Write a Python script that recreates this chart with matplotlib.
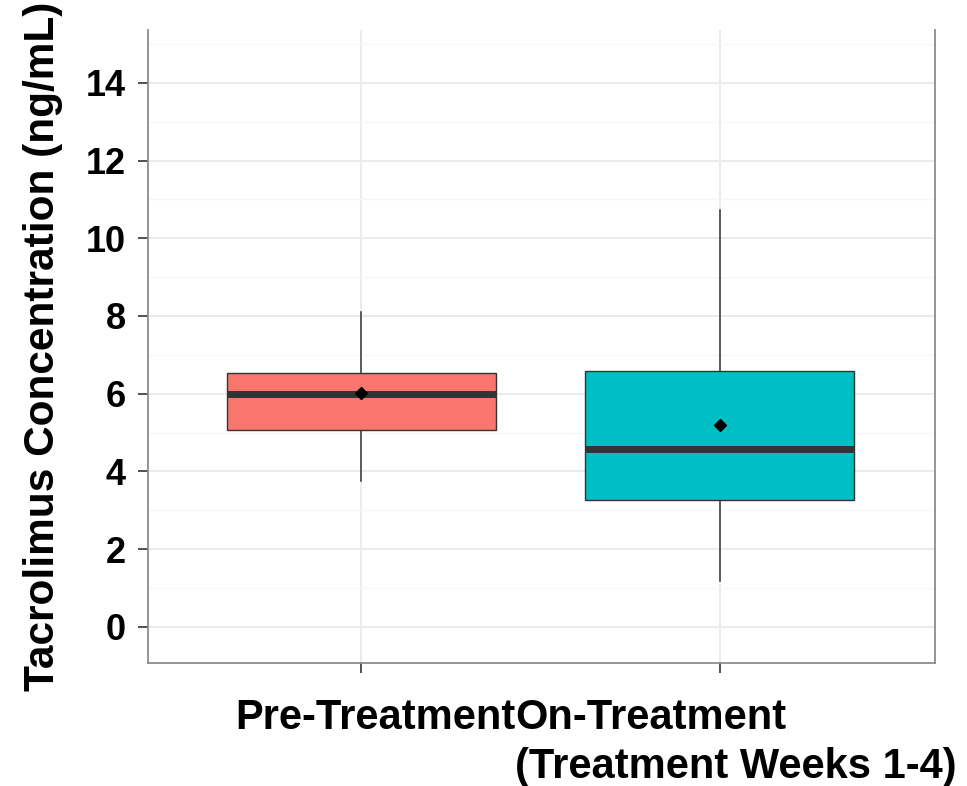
import numpy as np
import matplotlib.pyplot as plt
from matplotlib.ticker import MultipleLocator

plt.rcParams['font.family'] = ['Liberation Sans', 'DejaVu Sans']

# summary statistics per group (ng/mL)
groups = ['Pre-Treatment', 'On-Treatment\n(Treatment Weeks 1-4)']
whisker_low = [3.76, 1.18]
q1 = [5.07, 3.27]
median = [6.0, 4.58]
q3 = [6.54, 6.59]
whisker_high = [8.11, 10.73]
means = [6.02, 5.2]
fill_colors = ['#F8766D', '#00BFC4']

stats = []
for i, name in enumerate(groups):
    stats.append({'label': name, 'whislo': whisker_low[i], 'q1': q1[i], 'med': median[i],
                  'q3': q3[i], 'whishi': whisker_high[i], 'mean': means[i], 'fliers': []})

fig = plt.figure(figsize=(9.67, 7.86), dpi=100)
ax = fig.add_axes([148 / 967, 1 - 663 / 786, (935 - 148) / 967, (663 - 30) / 786])

pos = np.arange(1, len(groups) + 1)
bp = ax.bxp(stats, positions=pos, widths=0.75, patch_artist=True, showcaps=False,
            showmeans=True, meanline=False,
            boxprops=dict(edgecolor='#333333', linewidth=1.0),
            whiskerprops=dict(color='#333333', linewidth=1.1),
            medianprops=dict(color='#333333', linewidth=5),
            meanprops=dict(marker='D', markerfacecolor='black', markeredgecolor='black',
                           markersize=6.5))
for patch, c in zip(bp['boxes'], fill_colors):
    patch.set_facecolor(c)
    patch.set_zorder(3)
for line in bp['whiskers']:
    line.set_zorder(2)
for line in bp['medians']:
    line.set_zorder(4)
for m in bp['means']:
    m.set_zorder(5)

ax.set_xlim(0.405, 2.6)
ax.set_ylim(-0.93, 15.36)
ax.yaxis.set_major_locator(MultipleLocator(2))
ax.yaxis.set_minor_locator(MultipleLocator(1))
ax.set_yticks(np.arange(0, 15, 2))
ax.grid(which='major', color='#EBEBEB', linewidth=1.4, zorder=0)
ax.grid(which='minor', axis='y', color='#F6F6F6', linewidth=1.0, zorder=0)
ax.set_axisbelow(True)

for side in ['left', 'right', 'bottom']:
    ax.spines[side].set_color('#8C8C8C')
    ax.spines[side].set_linewidth(1.3)
ax.spines['top'].set_visible(False)

ax.tick_params(axis='y', which='major', length=7, width=1.2, color='#333333',
               labelsize=26, pad=9)
ax.tick_params(axis='y', which='minor', length=0)
ax.tick_params(axis='x', length=7, width=1.2, color='#333333', labelbottom=False)
for t in ax.get_yticklabels():
    t.set_fontweight('bold')

ax.set_xticks(pos)

# category labels under the panel
ax.text((375 - 148) / (935 - 148), -0.055, groups[0], transform=ax.transAxes,
        ha='center', va='top', fontsize=30, fontweight='bold')
ax.text((515 - 148) / (935 - 148), -0.055, groups[1], transform=ax.transAxes,
        ha='left', va='top', fontsize=30, fontweight='bold', multialignment='left',
        linespacing=1.3)

ax.set_ylabel('Tacrolimus Concentration (ng/mL)', fontsize=30.5, fontweight='bold',
              labelpad=16)

fig.savefig('out.png', dpi=100)
